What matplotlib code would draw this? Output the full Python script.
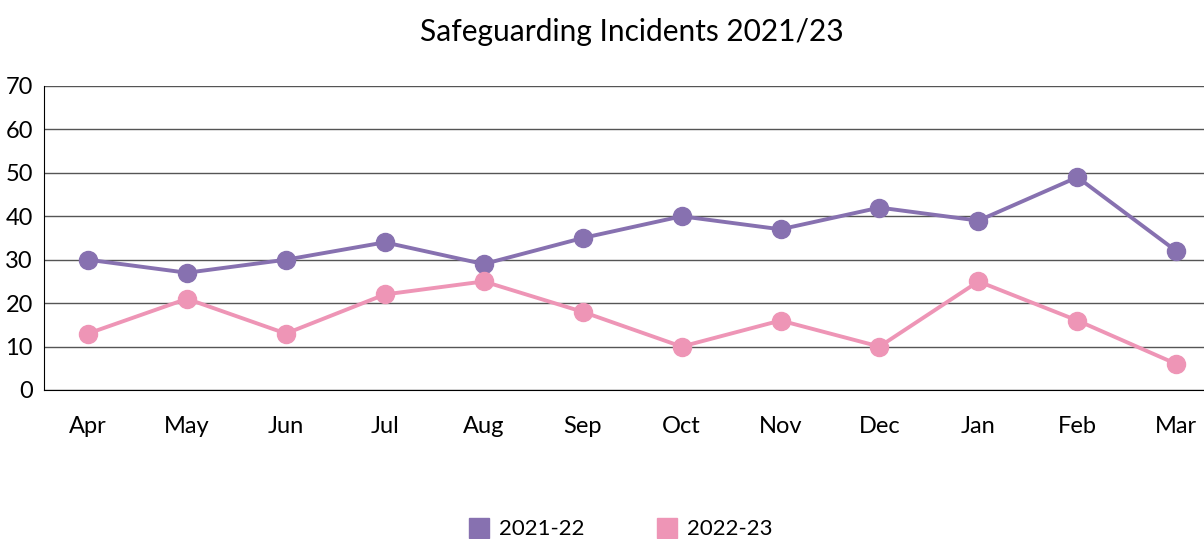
import matplotlib.pyplot as plt
from matplotlib.lines import Line2D
import numpy as np

plt.rcParams['font.family'] = ['Lato', 'DejaVu Sans']

months = ['Apr', 'May', 'Jun', 'Jul', 'Aug', 'Sep', 'Oct', 'Nov', 'Dec', 'Jan', 'Feb', 'Mar']
incidents_2122 = [30, 27, 30, 34, 29, 35, 40, 37, 42, 39, 49, 32]
incidents_2223 = [13, 21, 13, 22, 25, 18, 10, 16, 10, 25, 16, 6]

purple = '#8771B0'
pink = '#EE95B6'

fig = plt.figure(figsize=(12.04, 5.39), dpi=100)
ax = fig.add_axes([44 / 1204, 1 - 390 / 539, 1 - 44 / 1204, (390 - 86) / 539])

x = np.arange(len(months))
ax.plot(x, incidents_2122, color=purple, lw=2.8, marker='o', markersize=13, zorder=3)
ax.plot(x, incidents_2223, color=pink, lw=2.8, marker='o', markersize=13, zorder=3)

ax.set_xlim(-0.445, 11.28)
ax.set_ylim(0, 70)
ax.set_yticks(range(0, 71, 10))
ax.set_xticks(x)
ax.set_xticklabels(months)
ax.tick_params(axis='both', length=0, labelsize=17)
ax.tick_params(axis='x', pad=19)
ax.tick_params(axis='y', pad=8)

ax.grid(axis='y', color='#555555', lw=1)
ax.set_axisbelow(True)
for s in ['top', 'right']:
    ax.spines[s].set_visible(False)
ax.spines['left'].set_color('black')
ax.spines['bottom'].set_color('black')

fig.text(632 / 1204, 1 - 32 / 539, 'Safeguarding Incidents 2021/23', ha='center', va='center', fontsize=21.5)

handles = [Line2D([], [], ls='none', marker='s', markersize=14, color=purple),
           Line2D([], [], ls='none', marker='s', markersize=14, color=pink)]
fig.legend(handles, ['2021-22', '2022-23'], loc='center', bbox_to_anchor=(0.514, 0.018),
           ncol=2, frameon=False, fontsize=16, columnspacing=3.1, handlelength=1.2,
           handletextpad=0.3)

fig.savefig('out.png', dpi=100)
